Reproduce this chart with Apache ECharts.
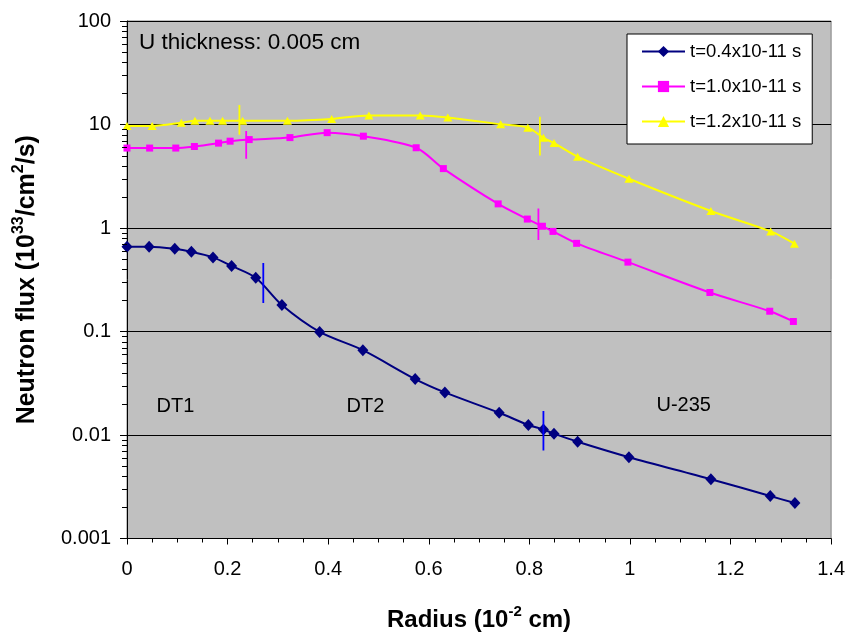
<!DOCTYPE html>
<html><head><meta charset="utf-8">
<script src="https://cdn.jsdelivr.net/npm/echarts@6/dist/echarts.min.js"></script>
<style>html,body{margin:0;padding:0;background:#fff}#c{width:848px;height:637px}</style>
</head><body><div id="c"></div>
<script>
const seriesNames = ['t=0.4x10-11 s', 't=1.0x10-11 s', 't=1.2x10-11 s'];
const xTickLabels = ['0', '0.2', '0.4', '0.6', '0.8', '1', '1.2', '1.4'];
const yTickLabels = ['0.001', '0.01', '0.1', '1', '10', '100'];

const r04 = [0, 0.044, 0.095, 0.128, 0.171, 0.208, 0.256, 0.308, 0.383, 0.469, 0.573, 0.632, 0.740, 0.798, 0.828, 0.849, 0.896, 0.998, 1.161, 1.279, 1.328];
const f04 = [0.66, 0.66, 0.63, 0.59, 0.52, 0.43, 0.33, 0.18, 0.099, 0.066, 0.0347, 0.0258, 0.0164, 0.0125, 0.0113, 0.0103, 0.0086, 0.0061, 0.00374, 0.00257, 0.0022];

const r10 = [0, 0.045, 0.097, 0.134, 0.182, 0.205, 0.243, 0.324, 0.398, 0.470, 0.575, 0.629, 0.738, 0.796, 0.826, 0.847, 0.894, 0.996, 1.159, 1.278, 1.325];
const f10 = [5.92, 5.92, 5.92, 6.13, 6.61, 6.90, 7.15, 7.47, 8.34, 7.71, 5.96, 3.75, 1.71, 1.22, 1.04, 0.927, 0.711, 0.468, 0.238, 0.157, 0.125];

const r12 = [0, 0.050, 0.108, 0.135, 0.165, 0.190, 0.230, 0.319, 0.407, 0.481, 0.583, 0.638, 0.743, 0.797, 0.828, 0.849, 0.896, 0.998, 1.161, 1.280, 1.327];
const f12 = [9.68, 9.68, 10.4, 10.87, 10.87, 10.87, 10.87, 10.87, 11.3, 12.25, 12.25, 11.7, 10.05, 9.32, 7.43, 6.61, 4.89, 2.99, 1.46, 0.927, 0.705];

// vertical boundary marks: [x, yLow, yHigh]
const mark04 = [[0.271, 0.188, 0.458], [0.828, 0.0071, 0.0171]];
const mark10 = [[0.237, 4.68, 8.67], [0.818, 0.766, 1.54]];
const mark12 = [[0.2235, 7.95, 15.4], [0.821, 5.02, 11.9]];

const annotations = [
  {text: 'U thickness: 0.005 cm', x: 139, y: 43, size: 22.5},
  {text: 'DT1', x: 156.5, y: 406, size: 20},
  {text: 'DT2', x: 346.5, y: 406, size: 20},
  {text: 'U-235', x: 656.5, y: 405, size: 20}
];

const colors = ['#000080', '#FF00FF', '#FFFF00'];
const markColors = ['#0000FF', '#FF00FF', '#FFFF00'];
const FONT = "'Liberation Sans', Arial, sans-serif";

const decades = [0.001, 0.01, 0.1, 1, 10];
const yMinor = [];
decades.forEach(d => { for (let k = 2; k <= 9; k++) yMinor.push([0, k * d]); });

function zip(xs, ys) { return xs.map((x, i) => [x, ys[i]]); }

const series = [
  {name: seriesNames[0], type: 'line', data: zip(r04, f04), smooth: 0.3, symbol: 'diamond', symbolSize: [11, 12],
   itemStyle: {color: colors[0]}, lineStyle: {color: colors[0], width: 2}, z: 5},
  {name: seriesNames[1], type: 'line', data: zip(r10, f10), smooth: 0.3, symbol: 'rect', symbolSize: 7,
   itemStyle: {color: colors[1]}, lineStyle: {color: colors[1], width: 2}, z: 4},
  {name: seriesNames[2], type: 'line', data: zip(r12, f12), smooth: 0.3, symbol: 'triangle', symbolSize: [9, 8],
   itemStyle: {color: colors[2]}, lineStyle: {color: colors[2], width: 2}, z: 3}
];
[mark04, mark10, mark12].forEach((marks, si) => {
  marks.forEach(m => {
    series.push({type: 'line', data: [[m[0], m[1]], [m[0], m[2]]], showSymbol: false, silent: true,
      lineStyle: {color: markColors[si], width: 1.8}, z: 6});
  });
});
series.push({
  type: 'custom', data: yMinor, silent: true, clip: false, z: 10,
  renderItem: function (params, api) {
    const p = api.coord([api.value(0), api.value(1)]);
    return {type: 'line', shape: {x1: p[0] - 5, y1: Math.round(p[1]) + 0.5, x2: p[0], y2: Math.round(p[1]) + 0.5},
      style: {stroke: '#000', lineWidth: 1}};
  }
});

const chart = echarts.init(document.getElementById('c'), null, {renderer: 'canvas'});
chart.setOption({
  animation: false,
  backgroundColor: '#fff',
  textStyle: {fontFamily: FONT},
  grid: {left: 127, right: 15, top: 21, bottom: 95, show: true, backgroundColor: '#C0C0C0', borderColor: '#808080', borderWidth: 1},
  legend: {
    data: seriesNames, orient: 'vertical', left: 627, top: 34,
    padding: [8, 11, 13, 14], itemGap: 16, itemWidth: 43, itemHeight: 14,
    backgroundColor: '#fff', borderColor: '#000', borderWidth: 1,
    textStyle: {fontSize: 18.5, color: '#000', fontFamily: FONT}
  },
  xAxis: {
    type: 'value', min: 0, max: 1.4, interval: 0.2,
    axisLine: {show: true, lineStyle: {color: '#000', width: 1}},
    axisTick: {show: true, length: 6, lineStyle: {color: '#000'}},
    minorTick: {show: true, splitNumber: 4, length: 4, lineStyle: {color: '#000'}},
    splitLine: {show: false},
    axisLabel: {margin: 21, fontSize: 20, color: '#000', fontFamily: FONT,
      formatter: (v) => xTickLabels[Math.round(v / 0.2)]},
    name: '{n|Radius (10}{s|-2}{n| cm)}', nameLocation: 'middle', nameGap: 66,
    nameTextStyle: {rich: {
      n: {fontSize: 24, fontWeight: 'bold', color: '#000', fontFamily: FONT},
      s: {fontSize: 15, fontWeight: 'bold', color: '#000', fontFamily: FONT, padding: [0, 0, 16, 0]}
    }}
  },
  yAxis: {
    type: 'log', logBase: 10, min: 0.001, max: 100,
    axisLine: {show: true, lineStyle: {color: '#000', width: 1}},
    axisTick: {show: true, length: 7, lineStyle: {color: '#000'}},
    splitLine: {show: true, lineStyle: {color: '#000', width: 1}},
    axisLabel: {margin: 16, fontSize: 20, color: '#000', fontFamily: FONT,
      formatter: (v) => yTickLabels[Math.round(Math.log10(v)) + 3]},
    name: '{n|Neutron flux (10}{s|33}{n|/cm}{s|2}{n|/s)}', nameLocation: 'middle', nameGap: 84, nameRotate: 90,
    nameTextStyle: {rich: {
      n: {fontSize: 25, fontWeight: 'bold', color: '#000', fontFamily: FONT},
      s: {fontSize: 16, fontWeight: 'bold', color: '#000', fontFamily: FONT, padding: [0, 0, 16, 0]}
    }}
  },
  graphic: annotations.map(a => ({
    type: 'text', x: a.x, y: a.y, z: 20,
    style: {text: a.text, fontSize: a.size, fontFamily: FONT, fill: '#000', verticalAlign: 'middle', align: 'left'}
  })),
  series: series
});
</script>
</body></html>
